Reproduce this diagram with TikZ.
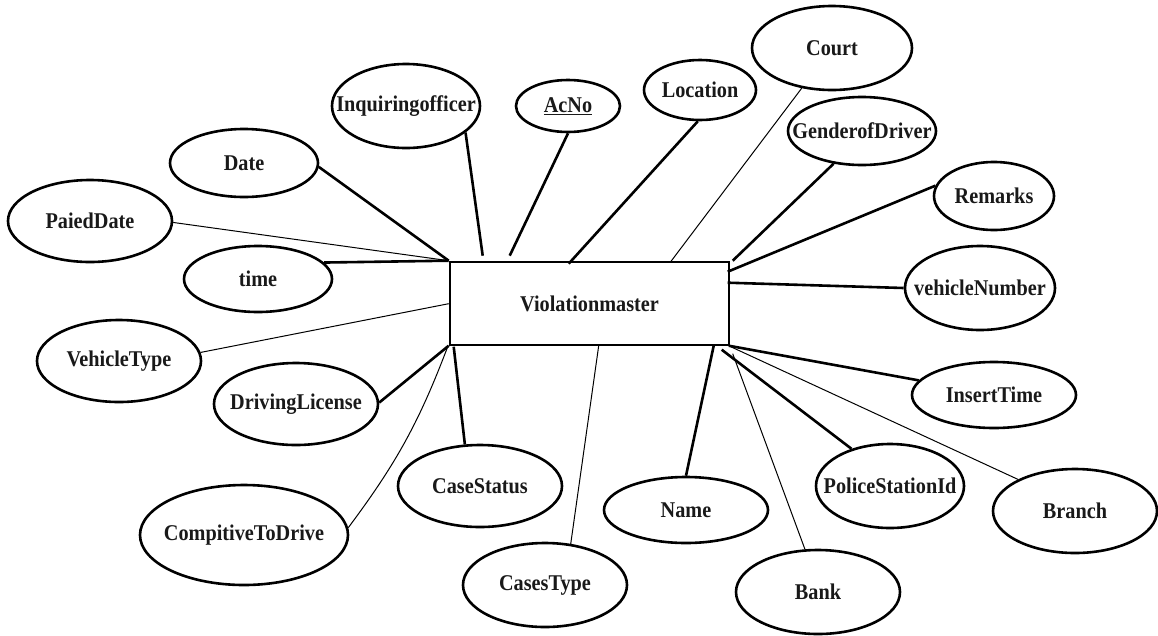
\documentclass[tikz,border=0pt]{standalone}
\usepackage{fontspec}
\setmainfont{Liberation Serif}
\usetikzlibrary{shapes.geometric,calc}
\newcommand{\attxt}[1]{\makebox[0pt]{\scalebox{0.9}[1]{#1}}}
\tikzset{
  attr/.style={ellipse, draw, line width=2.6pt, inner sep=0pt, text=black!90,
    font=\fontsize{22.5}{24}\selectfont\bfseries},
  ent/.style={rectangle, draw, line width=2.6pt, inner sep=0pt,
    minimum width=279pt, minimum height=83pt, text=black!90,
    font=\fontsize{22.5}{24}\selectfont\bfseries},
  thk/.style={line width=2.6pt},
  thn/.style={line width=1pt},
}
\begin{document}
\begin{tikzpicture}[x=1pt, y=-1pt]
\useasboundingbox (0,0) rectangle (1158,635);
% entity
\node[ent] (vm) at (589.5,303.5) {\attxt{Violationmaster}};
% attributes
\node[attr, minimum width=148pt, minimum height=68pt] (date) at (244,163) {\attxt{Date}};
\node[attr, minimum width=164pt, minimum height=82pt] (paied) at (90,221) {\attxt{PaiedDate}};
\node[attr, minimum width=148pt, minimum height=66pt] (time) at (258,279) {\attxt{time}};
\node[attr, minimum width=164pt, minimum height=82pt] (vtype) at (119,361) {\attxt{VehicleType}};
\node[attr, minimum width=148pt, minimum height=84pt] (inq) at (406,106) {\attxt{Inquiringofficer}};
\node[attr, minimum width=104pt, minimum height=52pt] (acno) at (568,106) {\attxt{\underline{AcNo}}};
\node[attr, minimum width=112pt, minimum height=60pt] (loc) at (700,90) {\attxt{Location}};
\node[attr, minimum width=160pt, minimum height=84pt] (court) at (832,48) {\attxt{Court}};
\node[attr, minimum width=148pt, minimum height=68pt] (gender) at (862,131) {\attxt{GenderofDriver}};
\node[attr, minimum width=120pt, minimum height=68pt] (remarks) at (994,196) {\attxt{Remarks}};
\node[attr, minimum width=150pt, minimum height=84pt] (vnum) at (980,288) {\attxt{vehicleNumber}};
\node[attr, minimum width=164pt, minimum height=66pt] (insert) at (994,395) {\attxt{InsertTime}};
\node[attr, minimum width=164pt, minimum height=84pt] (branch) at (1075,511) {\attxt{Branch}};
\node[attr, minimum width=148pt, minimum height=84pt] (police) at (890,486) {\attxt{PoliceStationId}};
\node[attr, minimum width=164pt, minimum height=84pt] (bank) at (818,592) {\attxt{Bank}};
\node[attr, minimum width=164pt, minimum height=66pt] (name) at (686,510) {\attxt{Name}};
\node[attr, minimum width=164pt, minimum height=84pt] (cases) at (545,585) {\attxt{CasesType}};
\node[attr, minimum width=164pt, minimum height=82pt] (status) at (480,486) {\attxt{CaseStatus}};
\node[attr, minimum width=164pt, minimum height=82pt] (dl) at (296,404) {\attxt{DrivingLicense}};
\node[attr, minimum width=208pt, minimum height=100pt] (comp) at (244,535) {\attxt{CompitiveToDrive}};
% connectors
\draw[thk] (date.-3) -- (vm.north west);
\draw[thn] (paied.-1) -- (vm.north west);
\draw[thk] (time.14) -- (vm.north west);
\draw[thn] (vtype.6) -- ($(vm.north west)+(0,43)$);
\draw[thk] (inq.-24) -- ($(vm.north west)+(34,-5)$);
\draw[thk] (acno.-90) -- ($(vm.north west)+(61,-5)$);
\draw[thk] (loc.-94) -- ($(vm.north west)+(120,3)$);
\draw[thn] (court.-127) -- ($(vm.north west)+(222,1)$);
\draw[thk] (gender.-131) -- ($(vm.north west)+(284,0)$);
\draw[thk] (remarks.170) -- ($(vm.north west)+(279,11)$);
\draw[thk] (vnum.180) -- ($(vm.north west)+(279,22)$);
\draw[thk] (insert.169) -- ($(vm.north west)+(280,85)$);
\draw[thn] (branch.151) -- ($(vm.north west)+(282,86)$);
\draw[thk] (police.136) -- ($(vm.north west)+(273,89)$);
\draw[thn] (bank.107) -- ($(vm.north west)+(284,93)$);
\draw[thk] (name.90) -- ($(vm.north west)+(265,85)$);
\draw[thn] (cases.58) -- ($(vm.north west)+(150,85)$);
\draw[thk] (status.110) -- ($(vm.north west)+(5,86)$);
\draw[thk] (dl.1) -- ($(vm.north west)+(0,85)$);
\draw[thn] (comp.4) to[bend right=8] ($(vm.north west)+(-1,86)$);
\end{tikzpicture}
\end{document}
